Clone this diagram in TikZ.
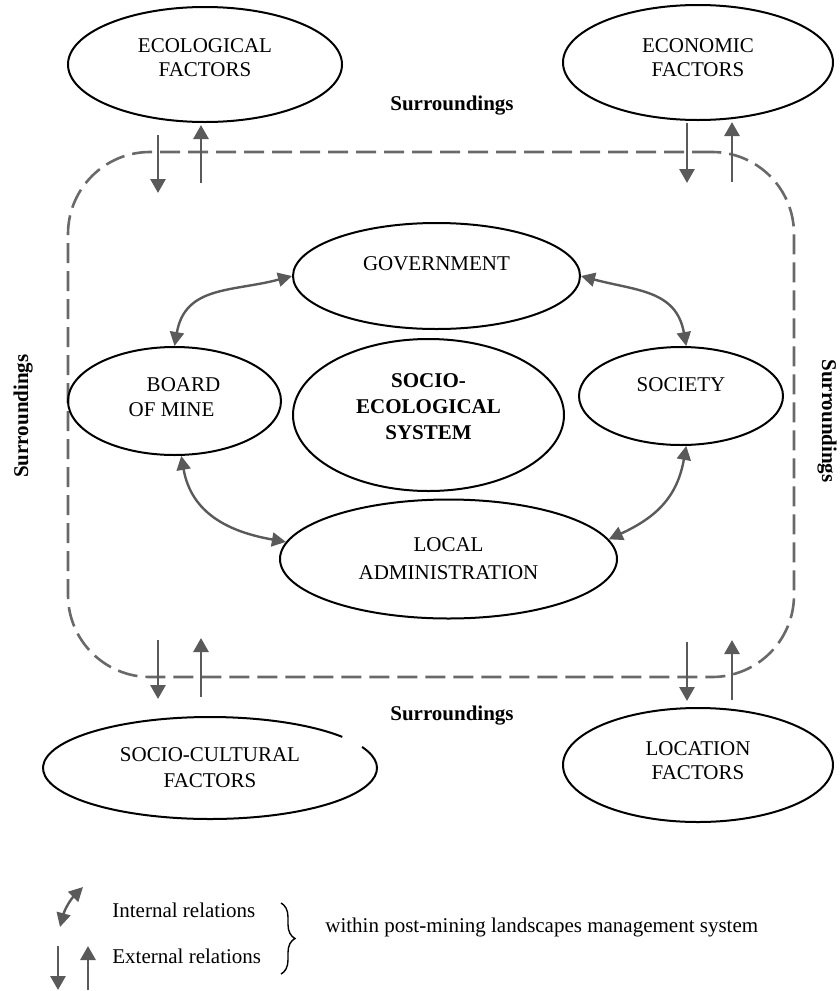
\documentclass[tikz,border=0pt]{standalone}
\usepackage{fontspec}
\setmainfont{Liberation Serif}
\usetikzlibrary{
		shapes.geometric,
		arrows.meta,
		decorations.pathreplacing,
		positioning
	}
\definecolor{relgray}{RGB}{90,90,90}
\definecolor{bordgray}{RGB}{105,105,105}
\tikzset{
		>=stealth,
		factor/.style={ellipse, draw, line width=1pt, inner sep=0pt, align=center, font=\fontsize{10.5}{12}\selectfont},
		surr/.style={font=\fontsize{10.5}{12}\selectfont\bfseries, inner sep=0pt},
		legtext/.style={font=\fontsize{10.5}{12}\selectfont, inner sep=0pt, anchor=base west},
		intrel/.style={draw=relgray, line width=1.2pt, {Triangle[length=7pt,width=7pt]}-{Triangle[length=7pt,width=7pt]}},
		extrel/.style={draw=relgray, line width=1.4pt, -{Triangle[length=7pt,width=7.5pt]}},
		boundary/.style={draw=bordgray, line width=1.3pt, dash pattern=on 10pt off 4pt, rounded corners=41pt, inner sep=0pt}
	}

\begin{document}
\begin{tikzpicture}[x=0.5pt, y=0.5pt] % one unit = one pixel of the 840x991 frame, y negative downwards
		\useasboundingbox (0,0) rectangle (840,-991);
		% system boundary
		\node[boundary, minimum width=363pt, minimum height=262.5pt] (bound) at (431,-414.5) {};
		% factors of the surroundings
		\node[factor, minimum width=137pt, minimum height=57.5pt] (eco) at (205,-64.5) {ECOLOGICAL\\FACTORS\\[-5pt]\mbox{}};
		\node[factor, minimum width=135pt, minimum height=57.5pt] (econ) at (698,-62.5) {ECONOMIC\\FACTORS\\[-7pt]\mbox{}};
		\node[factor, draw=none, minimum width=167pt, minimum height=51pt, font=\fontsize{10.5}{13}\selectfont] (cult) at (210,-768) {SOCIO-CULTURAL\\FACTORS};
		\draw[line width=1pt] ([shift={(37.6:83.5pt and 25.5pt)}]cult.center) arc[start angle=37.6, end angle=384.4, x radius=83.5pt, y radius=25.5pt]; % outline open at top right
		\node[factor, minimum width=135pt, minimum height=57pt] (loc) at (698,-765) {LOCATION\\FACTORS\\[-7.5pt]\mbox{}};
		% actors inside the system
		\node[factor, minimum width=143.5pt, minimum height=53pt] (gov) at (436.5,-276) {GOVERNMENT\\[0.5pt]\mbox{}};
		\node[factor, minimum width=106.5pt, minimum height=54pt, align=left, font=\fontsize{10.5}{12.5}\selectfont] (board) at (174.5,-401) {\hspace*{9pt}BOARD\\OF MINE\hspace*{12pt}\\[-8.5pt]\mbox{}};
		\node[factor, minimum width=135.5pt, minimum height=76pt, font=\fontsize{10.5}{13}\selectfont\bfseries] (ses) at (428.5,-415) {SOCIO-\\ECOLOGICAL\\SYSTEM\\[-5pt]\mbox{}};
		\node[factor, minimum width=102pt, minimum height=49pt] (soc) at (681,-396) {SOCIETY\\[-1pt]\mbox{}};
		\node[factor, minimum width=168.5pt, minimum height=59.5pt, font=\fontsize{10.5}{14}\selectfont] (admin) at (448.5,-559) {LOCAL\\ADMINISTRATION};
		% internal relations
		\draw[intrel] (gov.west) to[out=195, in=80, looseness=1.15] (board.north);
		\draw[intrel] (gov.east) to[out=-15, in=100, looseness=1.15] (soc.84);
		\draw[intrel] (board.-83) to[out=-80, in=170, looseness=1.1] (admin.174);
		\draw[intrel] (soc.-84) to[out=-100, in=25, looseness=1.1] (admin.7);
		% external relations across the boundary
		\foreach \k/\xd/\xu/\da/\db/\ua/\ub in {tl/158/201/135/193/183/125, tr/687/732/123/183/182/122, bl/158/201/640/699/697/638, br/687/732/642/701/700/640}{
			\coordinate (\k-d1) at (\xd,-\da);
			\coordinate (\k-d2) at (\xd,-\db);
			\coordinate (\k-u1) at (\xu,-\ua);
			\coordinate (\k-u2) at (\xu,-\ub);
			\draw[extrel] (\k-d1) -- (\k-d2);
			\draw[extrel] (\k-u1) -- (\k-u2);
		}
		% surroundings labels
		\node[surr, anchor=base] (stop) at (452,-110) {Surroundings};
		\node[surr, anchor=base] (sbot) at (452,-720) {Surroundings};
		\node[surr, anchor=base, rotate=90] (sleft) at (28,-416) {Surroundings};
		\node[surr, anchor=base, rotate=-90] (sright) at (822,-421) {Surroundings};
		% legend
		\coordinate (li1) at (60,-927);
		\coordinate (li2) at (83,-887);
		\draw[intrel] (li1) to[out=75, in=225] (li2);
		\coordinate (le-d1) at (58,-946);
		\coordinate (le-d2) at (58,-990);
		\coordinate (le-u1) at (88,-990);
		\coordinate (le-u2) at (88,-946);
		\draw[extrel] (le-d1) -- (le-d2);
		\draw[extrel] (le-u1) -- (le-u2);
		\node[legtext] (intl) at (112,-917) {Internal relations};
		\node[legtext] (extl) at (112,-963) {External relations};
		\coordinate (br1) at (281,-903);
		\coordinate (br2) at (281,-974);
		\draw[line width=0.7pt, decorate, decoration={brace, amplitude=7pt}] (br1) -- (br2);
		\node[legtext] (within) at (325,-932) {within post-mining landscapes management system};
	\end{tikzpicture}
\end{document}
